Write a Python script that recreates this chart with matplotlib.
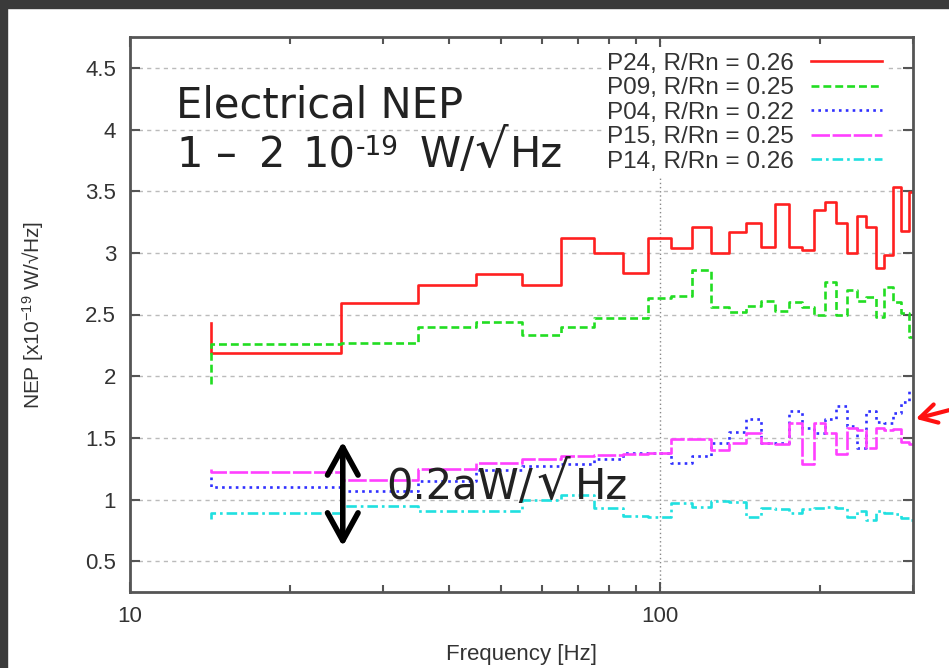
import numpy as np
import matplotlib
matplotlib.use("Agg")
import matplotlib.pyplot as plt
from matplotlib.patches import Rectangle

plt.rcParams['font.family'] = ['Liberation Sans', 'DejaVu Sans']
plt.rcParams['mathtext.default'] = 'regular'

# bin edges of the frequency steps (Hz); first entry is where the curves start
freq = [14.2, 25, 35, 45, 55, 65, 75, 85, 95, 105, 115, 125, 135, 145, 155,
        165, 175, 185, 195, 205, 215, 225, 235, 245, 255, 265, 275, 285, 295, 305]

# NEP in 1e-19 W/sqrt(Hz), first value is the starting level at 14.2 Hz
nep_p24 = [2.43, 2.19, 2.59, 2.74, 2.83, 2.74, 3.12, 3.00, 2.84, 3.12, 3.04,
           3.21, 3.00, 3.17, 3.24, 3.05, 3.40, 3.05, 3.02, 3.35, 3.41, 3.24,
           3.00, 3.30, 3.21, 2.88, 2.98, 3.53, 3.18, 3.49]
nep_p09 = [1.94, 2.26, 2.27, 2.40, 2.44, 2.33, 2.40, 2.47, 2.47, 2.63, 2.65,
           2.86, 2.56, 2.52, 2.57, 2.61, 2.53, 2.60, 2.56, 2.50, 2.76, 2.50,
           2.70, 2.61, 2.64, 2.48, 2.72, 2.60, 2.51, 2.32]
nep_p04 = [1.18, 1.10, 1.07, 1.15, 1.24, 1.27, 1.29, 1.33, 1.38, 1.38, 1.30,
           1.35, 1.46, 1.55, 1.65, 1.46, 1.46, 1.72, 1.58, 1.54, 1.65, 1.76,
           1.60, 1.42, 1.72, 1.63, 1.62, 1.70, 1.79, 1.88]
nep_p15 = [1.25, 1.22, 1.16, 1.25, 1.30, 1.33, 1.35, 1.36, 1.37, 1.38, 1.49,
           1.49, 1.40, 1.46, 1.54, 1.46, 1.45, 1.62, 1.29, 1.62, 1.54, 1.37,
           1.58, 1.56, 1.42, 1.58, 1.56, 1.57, 1.47, 1.45]
nep_p14 = [0.84, 0.89, 0.95, 0.91, 0.91, 1.00, 1.04, 0.93, 0.87, 0.86, 0.97,
           0.94, 0.99, 0.98, 0.86, 0.93, 0.92, 0.89, 0.92, 0.93, 0.94, 0.93,
           0.86, 0.91, 0.83, 0.91, 0.89, 0.88, 0.85, 0.83]

labels = ["P24, R/Rn = 0.26", "P09, R/Rn = 0.25", "P04, R/Rn = 0.22",
          "P15, R/Rn = 0.25", "P14, R/Rn = 0.26"]
colors = ['#ff2020', '#22dd22', '#3030ff', '#ff40ff', '#20e0e0']
styles = ['-', (0, (3, 1.5)), (0, (1, 1.6)), (0, (7, 1)), (0, (4, 1.5, 1, 1.5))]
series = [nep_p24, nep_p09, nep_p04, nep_p15, nep_p14]

W, H = 949, 668
AX_L, AX_R, AX_T, AX_B = 130, 913, 37, 592   # axes box in pixels

fig = plt.figure(figsize=(W / 100, H / 100), dpi=100)
ax = fig.add_axes([AX_L / W, 1 - AX_B / H, (AX_R - AX_L) / W, (AX_B - AX_T) / H])

for y, lab, c, ls in zip(series, labels, colors, styles):
    ax.step(freq, y, where='pre', color=c, ls=ls, lw=1.9, label=lab)

ax.set_xscale('log')
ax.set_xlim(10, 300)
ax.set_ylim(0.25, 4.75)
ax.set_yticks([0.5, 1, 1.5, 2, 2.5, 3, 3.5, 4, 4.5])
ax.set_yticklabels(['0.5', '1', '1.5', '2', '2.5', '3', '3.5', '4', '4.5'])
ax.set_xticks([10, 100])
ax.set_xticklabels(['10', '100'])
ax.xaxis.set_minor_formatter(matplotlib.ticker.NullFormatter())

for s in ax.spines.values():
    s.set_color('#555555')
    s.set_linewidth(2)
ax.tick_params(which='both', direction='in', top=True, right=True,
               colors='#555555', labelcolor='#333333', labelsize=16, pad=10)
ax.tick_params(which='major', length=7, width=1.5)
ax.tick_params(which='minor', length=5, width=1.5)

ax.yaxis.grid(True, color='#bbbbbb', ls=(0, (3, 3)), lw=1)
ax.axvline(100, color='#888888', ls=(0, (1, 2)), lw=1, zorder=0)
ax.set_axisbelow(True)

ax.set_xlabel('Frequency [Hz]', fontsize=16, color='#333333', labelpad=12)
ax.set_ylabel('NEP [x10$^{-19}$ W/\u221aHz]', fontsize=15, color='#333333', labelpad=28)

leg = ax.legend(loc='upper right', bbox_to_anchor=(0.98, 1.0), fontsize=17.5,
                markerfirst=False, handlelength=2.9, handletextpad=0.7,
                labelspacing=0.1, borderpad=0.15, frameon=True, fancybox=False,
                framealpha=1, edgecolor='none', facecolor='white')
for t in leg.get_texts():
    t.set_color('#333333')
leg.set_zorder(5)

big = ['DejaVu Sans']


def put(px, base_py, s, size=30):
    # place a text run by its left edge / baseline in figure pixels
    ax.text((px - AX_L) / (AX_R - AX_L), (AX_B - base_py) / (AX_B - AX_T), s,
            transform=ax.transAxes, fontsize=size, family=big,
            color='#222222', va='baseline', ha='left', zorder=6)


put(176, 117, 'Electrical NEP')
put(176, 167, '1')
put(216, 167, '\u2013')
put(259, 167, '2')
put(302, 167, '10')
put(356, 155, '-19', size=19)
put(420, 167, 'W/')
put(474, 167, '\u221a', size=38)
put(510, 167, 'Hz')

put(386, 499, '0.2aW/')
put(536, 499, '\u221a', size=38)
put(575, 499, 'Hz')

ax.annotate('', xy=(25.2, 0.62), xytext=(25.2, 1.47),
            arrowprops=dict(arrowstyle='<->, head_length=1.0, head_width=0.55',
                            lw=4, color='black', mutation_scale=20,
                            shrinkA=0, shrinkB=0), zorder=6)

# red pointer outside the plot
ax.annotate('', xy=(0.965, 0.373), xytext=(1.0, 0.386), xycoords='figure fraction',
            textcoords='figure fraction', annotation_clip=False,
            arrowprops=dict(arrowstyle='->, head_length=0.8, head_width=0.45',
                            lw=3, color='#ff1010', mutation_scale=15,
                            shrinkA=0, shrinkB=0))

# dark screenshot border at the top and left
fig.add_artist(Rectangle((0, 0.988), 1, 0.012, transform=fig.transFigure,
                         color='#3a3a3a', zorder=10))
fig.add_artist(Rectangle((0, 0), 0.0075, 1, transform=fig.transFigure,
                         color='#3a3a3a', zorder=10))

fig.savefig('out.png', dpi=100)
